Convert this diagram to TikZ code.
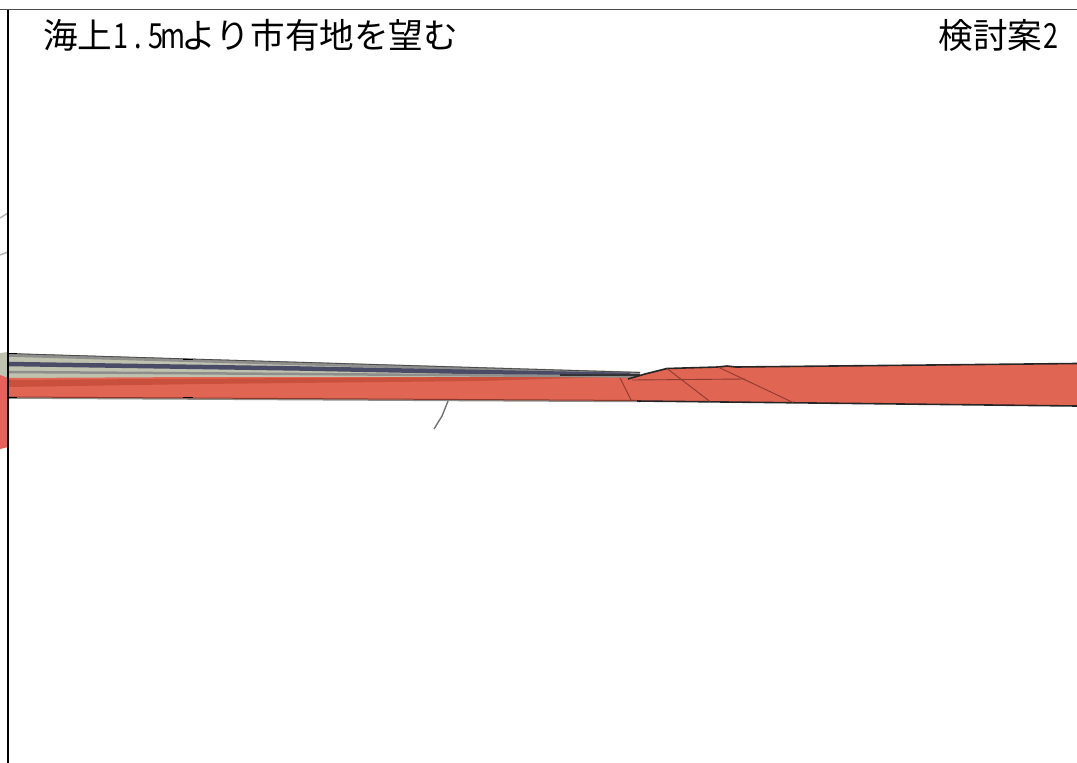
\documentclass[tikz,border=0pt]{standalone}
\usepackage{fontspec}
\setmainfont{Noto Sans CJK JP}
\definecolor{landred}{HTML}{E06552}
\definecolor{landdark}{HTML}{8E3A30}
\definecolor{seawall}{HTML}{BFC2AE}
\definecolor{wallgray}{HTML}{8E8E8C}
\definecolor{walldark}{HTML}{4A4B66}
\definecolor{mudred}{HTML}{C9503C}
\definecolor{blobred}{HTML}{E8605A}
\newcommand{\hw}[1]{\makebox[17.4pt][c]{\scalebox{0.78}[1]{#1}}}
\tikzset{
  caption/.style={inner sep=0pt,font=\fontsize{34.6}{34.6}\selectfont,text=black},
  thinred/.style={landdark,line width=0.9pt},
  outline/.style={black!85,line width=1.6pt}
}
\begin{document}
\begin{tikzpicture}[x=1pt,y=1pt]
\useasboundingbox (0,-763) rectangle (1077,0);
% left of the frame
\fill [seawall] (0,-353) -- (8,-352) -- (8,-378) -- (0,-378) -- cycle;
\fill [blobred] (0,-375) -- (8,-378) -- (8,-447) -- (0,-449) -- cycle;
\draw [black!30,line width=1.4pt] (0,-218) -- (8,-213);
\draw [black!30,line width=1.4pt] (0,-255) -- (8,-252);
% band in front of the frame
\fill [seawall] (8,-353) -- (640,-373) -- (640,-378) -- (8,-380) -- cycle;
\fill [landred] (8,-378) -- (200,-377) -- (640,-377) -- (640,-401) -- (8,-397) -- cycle;
\fill [mudred] (8,-380) -- (300,-378) -- (640,-376) -- (480,-381) -- (200,-384) -- (8,-387) -- cycle;
\draw [wallgray,line width=3.5pt] (8,-355) -- (640,-373.5);
\draw [black!70,line width=0.8pt] (8,-353.5) -- (640,-372.5);
\draw [walldark,line width=4.5pt] (8,-364) -- (300,-368.5) -- (630,-375);
\draw [wallgray,line width=2.5pt] (8,-372) -- (300,-374) -- (640,-376.5);
\draw [wallgray,line width=1.5pt] (8,-398) -- (640,-401.5);
\draw [mudred!70!black,line width=1pt] (8,-397) -- (640,-400.5);
\draw [black!80,line width=1.5pt] (560,-375) -- (640,-375);
% short black ticks
\draw [black,line width=1pt] (8,-353) -- (17,-353);
\draw [black,line width=1pt] (8,-397) -- (17,-397);
\draw [black,line width=1pt] (183,-359) -- (193,-359);
\draw [black,line width=1pt] (183,-397.5) -- (193,-397.5);
% land on the right
\fill [landred] (628,-379) -- (645,-374) -- (667,-368.5) -- (718,-367) -- (727,-366) -- (736,-367) -- (1077,-363.5) -- (1077,-406) -- (637,-401) -- cycle;
\draw [outline] (628,-379) -- (645,-374) -- (667,-368.5) -- (718,-367) -- (727,-366) -- (736,-367) -- (1077,-363.5);
\draw [outline] (637,-401) -- (1077,-406);
\draw [thinred] (667,-368.5) -- (710,-401.5);
\draw [thinred] (718,-367) -- (793,-402.5);
\draw [thinred] (632,-380) -- (745,-379);
\draw [thinred] (620,-378) -- (631,-400);
% stray stroke
\draw [black!55,line width=1.4pt] (448,-401) -- (442,-416) -- (434,-429);
% frame
\draw [black!70,line width=1.5pt] (0,-9.5) -- (1077,-9.5);
\draw [black,line width=1.3pt] (8,-9.5) -- (8,-763);
% captions
\node [caption,anchor=west] (viewtitle) at (43,-35.5) {海上\hw{1}\hw{.}\hw{5}\hw{m}より市有地を望む};
\node [caption,anchor=east] (plantitle) at (1060,-35.5) {検討案\hw{2}};
\end{tikzpicture}
\end{document}
